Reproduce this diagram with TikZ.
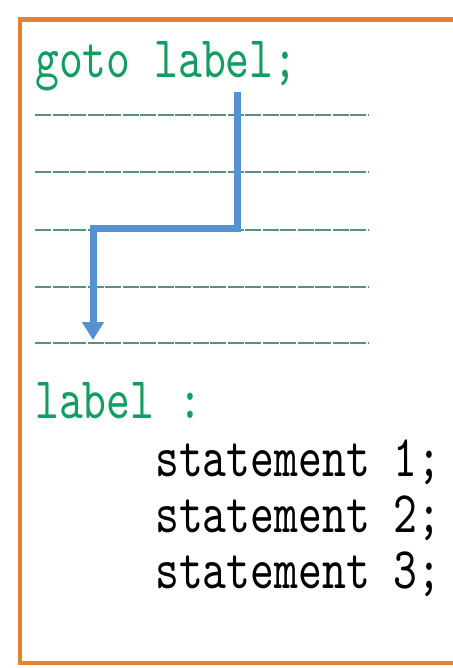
\documentclass[tikz,border=0pt]{standalone}
\usepackage{fontspec}
\newfontfamily\codefont{lmmono10-regular.otf}[FakeStretch=0.77]
\usetikzlibrary{arrows.meta}
\definecolor{codegreen}{RGB}{18,158,96}
\definecolor{ruleline}{RGB}{90,145,125}
\definecolor{arrowblue}{RGB}{84,146,212}
\definecolor{frameorange}{RGB}{232,128,52}
\tikzset{
  code/.style={anchor=base west,inner sep=0pt,font=\codefont\fontsize{59}{59}\selectfont},
  greencode/.style={code,text=codegreen},
  blackcode/.style={code,text=black},
  rule/.style={draw=ruleline,line width=1.6pt,dash pattern=on 16pt off 1.5pt},
  jump/.style={draw=arrowblue,line width=7pt,-{Triangle[width=21pt,length=18pt]}},
}
\begin{document}
\begin{tikzpicture}[x=1pt,y=-1pt]
\useasboundingbox (0,0) rectangle (452,668);
\draw[frameorange,line width=4.5pt] (470,19.5) -- (20,19.5) -- (20,663) -- (470,663);
\node[greencode] (gotoline) at (35,78) {goto label;};
\foreach \yy [count=\i] in {115,172,230,287,343}
  \draw[rule] (35,\yy) coordinate (l\i s) -- (368,\yy) coordinate (l\i e);
\coordinate (start) at (237,92);
\coordinate (turnA) at (237,228);
\coordinate (turnB) at (93,228);
\coordinate (target) at (93,340);
\draw[jump,line join=miter] (start) -- (turnA) -- (turnB) -- (target);
\node[greencode] (labelline) at (35,418) {label :};
\node[blackcode] (s1) at (155,476) {statement 1;};
\node[blackcode] (s2) at (155,532) {statement 2;};
\node[blackcode] (s3) at (155,588) {statement 3;};
\end{tikzpicture}
\end{document}
